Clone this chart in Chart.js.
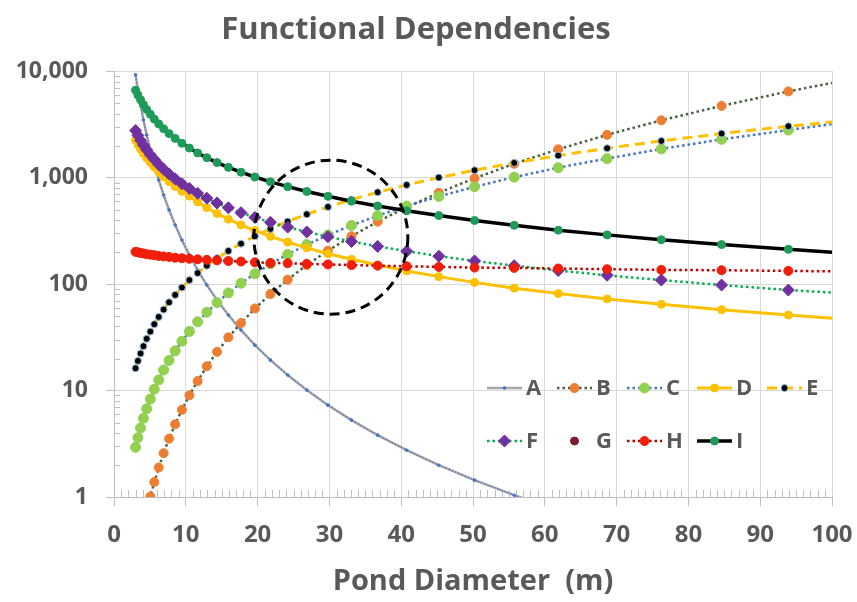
<!DOCTYPE html>
<html>
<head>
<meta charset="utf-8">
<script src="https://cdn.jsdelivr.net/npm/chart.js@4.4.1/dist/chart.umd.min.js"></script>
<style>
  html, body { margin: 0; padding: 0; background: #fff; }
  #chart { display: block; }
</style>
</head>
<body>
<canvas id="chart" width="857" height="602"></canvas>
<script>
// pond diameters (m) where every series has a point
const diameters = [3.0, 3.33, 3.7, 4.1, 4.55, 5.06, 5.61, 6.23, 6.91, 7.67, 8.52, 9.46, 10.5, 11.65, 12.93, 14.35, 15.93, 17.69, 19.63, 21.79, 24.19, 26.85, 29.8, 33.08, 36.72, 40.76, 45.24, 50.22, 55.74, 61.87, 68.68, 76.23, 84.62, 93.92, 104.3];

const seriesNames = ['A', 'B', 'C', 'D', 'E', 'F', 'G', 'H', 'I'];

const seriesA = [9226, 6668, 4819, 3483, 2518, 1820, 1315, 951, 687, 497, 359, 259, 187.5, 135.5, 98, 70.8, 51.2, 37.0, 26.7, 19.3, 14.0, 10.1, 7.29, 5.27, 3.81, 2.75, 1.99, 1.44, 1.04, 0.75, 0.54, 0.39, 0.28, 0.21, 0.15];
const seriesB = [0.21, 0.29, 0.39, 0.54, 0.74, 1.01, 1.38, 1.89, 2.58, 3.53, 4.82, 6.59, 9.02, 12.3, 16.9, 23.1, 31.6, 43.1, 59.0, 80.7, 110, 151, 206, 282, 386, 528, 722, 987, 1350, 1847, 2525, 3454, 4723, 6460, 8834];
const seriesC = [2.93, 3.61, 4.45, 5.48, 6.75, 8.32, 10.3, 12.6, 15.6, 19.2, 23.6, 29.1, 35.9, 44.2, 54.4, 67.1, 82.6, 102, 125, 155, 190, 235, 289, 356, 439, 541, 666, 821, 1011, 1240, 1510, 1860, 2290, 2800, 3500];
const seriesD = [2249, 2042, 1854, 1683, 1528, 1387, 1259, 1133, 1020, 918, 826, 744, 670, 592, 522, 461, 407, 360, 318, 281, 248, 219, 193, 171, 151, 133, 117.5, 103.8, 91.6, 81.5, 72.6, 64.6, 57.5, 51.2, 45.5];
const seriesE = [16.2, 19.0, 22.3, 26.1, 30.6, 35.8, 42.0, 49.2, 57.6, 67.5, 79.2, 92.8, 109, 127, 149, 175, 205, 240, 282, 330, 387, 453, 531, 622, 729, 855, 1002, 1174, 1376, 1612, 1889, 2214, 2595, 3041, 3564];
const seriesF = [2767, 2492, 2243, 2024, 1824, 1640, 1480, 1332, 1201, 1082, 974, 877, 790, 712, 642, 578, 521, 469, 423, 381, 343, 309, 279, 251, 226, 204, 183, 165, 149, 134, 121, 109, 98, 88, 80];
const seriesG = [];
const seriesH = [201, 199, 196, 194, 191, 189, 187, 184, 182, 180, 177, 175, 173, 171, 169, 167, 165, 163, 160, 158, 157, 155, 153, 151, 149, 147, 145, 143, 142, 140, 138, 136, 135, 133, 131];
const seriesI = [6633, 5976, 5384, 4850, 4370, 3937, 3547, 3195, 2879, 2593, 2336, 2105, 1896, 1708, 1539, 1386, 1249, 1125, 1014, 913, 823, 741, 668, 601, 542, 488, 440, 396, 357, 321, 290, 261, 235, 212, 191];

const xTickValues = [0, 10, 20, 30, 40, 50, 60, 70, 80, 90, 100];
const yTickValues = [1, 10, 100, 1000, 10000];

// dashed circle marking the crossing zone
const highlight = { x: 30.2, y: 276 };

const gray = '#595959';
const font = '"Open Sans"';

function pts(values) {
  return values.map((v, i) => ({ x: diameters[i], y: v }));
}

const datasets = [
  { label: 'A', data: pts(seriesA), order: 9, borderColor: '#A6A6A6', borderWidth: 2.5,
    pointRadius: 1.8, pointBackgroundColor: '#4472C4', pointBorderColor: '#4472C4', pointBorderWidth: 0 },
  // thin blue dotted overlay on A (not in legend)
  { label: 'A-dots', data: pts(seriesA), order: 8.5, borderColor: '#5B7BC4', borderWidth: 1.3,
    borderDash: [1.5, 2], pointRadius: 0 },
  { label: 'B', data: pts(seriesB), order: 8, borderColor: '#48603C', borderWidth: 2.5, borderDash: [2.5, 3],
    pointRadius: 4.5, pointBackgroundColor: '#ED7D31', pointBorderColor: '#ED7D31', pointBorderWidth: 1 },
  { label: 'C', data: pts(seriesC), order: 7, borderColor: '#4472C4', borderWidth: 2.5, borderDash: [2.5, 3],
    pointRadius: 5, pointBackgroundColor: '#92D050', pointBorderColor: '#92D050', pointBorderWidth: 1 },
  { label: 'D', data: pts(seriesD), order: 6, borderColor: '#FFC000', borderWidth: 3,
    pointRadius: 4, pointBackgroundColor: '#FFC000', pointBorderColor: '#FFC000', pointBorderWidth: 1 },
  { label: 'E', data: pts(seriesE), order: 5, borderColor: '#FFC000', borderWidth: 3, borderDash: [10, 6],
    pointRadius: 3.5, pointBackgroundColor: '#000000', pointBorderColor: '#9DC3E6', pointBorderWidth: 1 },
  { label: 'F', data: pts(seriesF), order: 4, borderColor: '#00B050', borderWidth: 2.5, borderDash: [2.5, 3],
    pointStyle: 'rectRot', pointRadius: 6, pointBackgroundColor: '#7030A0', pointBorderColor: '#7030A0', pointBorderWidth: 1 },
  { label: 'G', data: pts(seriesG), order: 3, showLine: false, borderColor: '#7B1C2E',
    pointRadius: 4, pointBackgroundColor: '#7B1C2E', pointBorderColor: '#7B1C2E', pointBorderWidth: 1 },
  { label: 'H', data: pts(seriesH), order: 2, borderColor: '#C00000', borderWidth: 2.5, borderDash: [2.5, 3],
    pointRadius: 4.5, pointBackgroundColor: '#F01E0A', pointBorderColor: '#F01E0A', pointBorderWidth: 1 },
  { label: 'I', data: pts(seriesI), order: 1, borderColor: '#000000', borderWidth: 3.5,
    pointRadius: 4, pointBackgroundColor: '#1E9B58', pointBorderColor: '#1E9B58', pointBorderWidth: 1 }
];

// small inward tick marks between the labelled ones
const minorTicks = {
  id: 'minorTicks',
  beforeDatasetsDraw(chart) {
    const { ctx, chartArea: a, scales: { x, y } } = chart;
    ctx.save();
    ctx.strokeStyle = '#BFBFBF';
    ctx.lineWidth = 1;
    ctx.beginPath();
    for (let v = 1; v < 100; v++) {
      if (v % 10 === 0) continue;
      const px = Math.round(x.getPixelForValue(v)) + 0.5;
      ctx.moveTo(px, a.bottom);
      ctx.lineTo(px, a.bottom - 7);
    }
    for (let d = 1; d < 10000; d *= 10) {
      for (let m = 2; m < 10; m++) {
        const py = Math.round(y.getPixelForValue(d * m)) + 0.5;
        ctx.moveTo(a.left, py);
        ctx.lineTo(a.left + 6, py);
      }
    }
    ctx.stroke();
    ctx.restore();
  }
};

const circleMark = {
  id: 'circleMark',
  afterDatasetsDraw(chart) {
    const { ctx, scales: { x, y } } = chart;
    const cx = x.getPixelForValue(highlight.x);
    const cy = y.getPixelForValue(highlight.y);
    ctx.save();
    ctx.setLineDash([10, 6]);
    ctx.lineWidth = 3;
    ctx.strokeStyle = '#000';
    ctx.beginPath();
    ctx.arc(cx, cy, 77, 0, Math.PI * 2);
    ctx.stroke();
    ctx.restore();
  }
};

// two-row legend inside the plot, like the excel one
const insideLegend = {
  id: 'insideLegend',
  afterDraw(chart) {
    const { ctx } = chart;
    seriesNames.forEach((name, n) => {
      const ds = chart.data.datasets.find(d => d.label === name);
      const col = n < 5 ? n : n - 5;
      const row = n < 5 ? 0 : 1;
      const x0 = 487 + col * 70;
      const yy = 388 + row * 53;
      ctx.save();
      if (ds.showLine !== false) {
        ctx.strokeStyle = ds.borderColor;
        ctx.lineWidth = ds.borderWidth;
        ctx.setLineDash(ds.borderDash || []);
        ctx.beginPath();
        ctx.moveTo(x0, yy);
        ctx.lineTo(x0 + 35, yy);
        ctx.stroke();
      }
      ctx.setLineDash([]);
      ctx.fillStyle = ds.pointBackgroundColor;
      ctx.strokeStyle = ds.pointBorderColor;
      ctx.lineWidth = ds.pointBorderWidth;
      Chart.helpers.drawPoint(ctx, {
        pointStyle: ds.pointStyle || 'circle',
        radius: ds.pointRadius,
        borderWidth: ds.pointBorderWidth,
        rotation: 0
      }, x0 + 17.5, yy);
      ctx.fillStyle = gray;
      ctx.font = 'bold 22px ' + font;
      ctx.textBaseline = 'middle';
      ctx.textAlign = 'left';
      ctx.fillText(name, x0 + 39, yy + 1);
      ctx.restore();
    });
  }
};

new Chart(document.getElementById('chart'), {
  type: 'line',
  data: { datasets: datasets },
  options: {
    responsive: false,
    animation: false,
    layout: { padding: { left: 0, right: 25, top: 0, bottom: 0 } },
    elements: { line: { tension: 0, borderCapStyle: 'butt' } },
    plugins: {
      legend: { display: false },
      tooltip: { enabled: false },
      title: {
        display: true,
        text: 'Functional Dependencies',
        color: gray,
        font: { family: font, size: 31, weight: 'bold' },
        padding: { top: 12, bottom: 22 }
      }
    },
    scales: {
      x: {
        type: 'linear',
        min: 0,
        max: 100,
        afterBuildTicks: s => { s.ticks = xTickValues.map(v => ({ value: v })); },
        afterFit: s => { s.height = 105; s.paddingLeft = 0; s.paddingRight = 0; },
        ticks: { color: gray, font: { family: font, size: 24, weight: 'bold' }, padding: 15, maxRotation: 0, autoSkip: false },
        grid: { color: '#D9D9D9', tickColor: '#BFBFBF', tickLength: 9 },
        border: { color: '#BFBFBF' },
        title: {
          display: true,
          text: 'Pond Diameter  (m)',
          color: gray,
          font: { family: font, size: 29, weight: 'bold' },
          padding: { top: 0, bottom: 3 }
        }
      },
      y: {
        type: 'logarithmic',
        min: 1,
        max: 10000,
        afterBuildTicks: s => { s.ticks = yTickValues.map(v => ({ value: v, major: true })); },
        afterFit: s => { s.width = 114; s.paddingTop = 0; s.paddingBottom = 0; },
        ticks: {
          color: gray,
          font: { family: font, size: 23, weight: 'bold' },
          padding: 18,
          callback: v => Number(v).toLocaleString('en-US')
        },
        grid: { color: '#D9D9D9', tickColor: '#BFBFBF', tickLength: 8 },
        border: { color: '#BFBFBF' }
      }
    }
  },
  plugins: [minorTicks, circleMark, insideLegend]
});
</script>
</body>
</html>
